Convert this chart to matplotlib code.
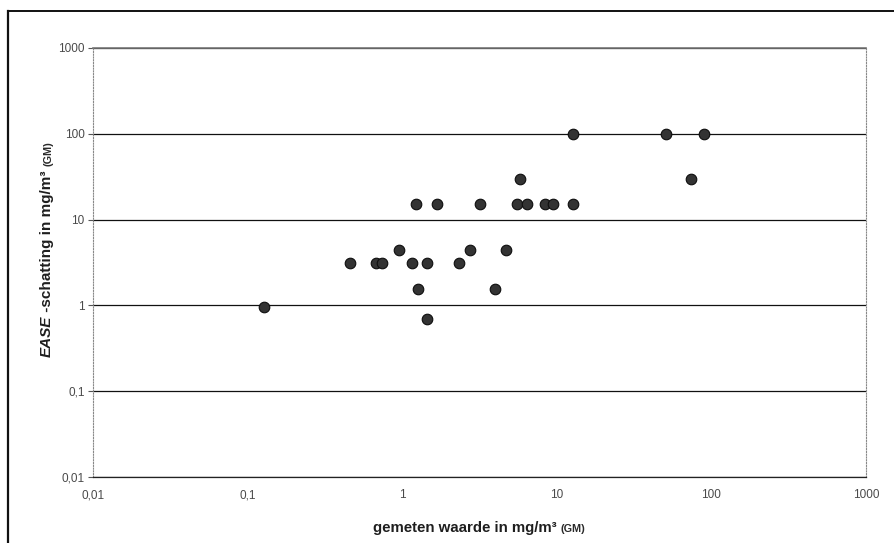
import matplotlib
matplotlib.use("Agg")
import matplotlib.pyplot as plt
from matplotlib.ticker import FixedLocator, FixedFormatter, NullLocator
from matplotlib.lines import Line2D

# ---- data ----
measured = [0.128,
            0.46, 0.675, 0.74, 1.16, 1.45, 2.33,
            0.96, 2.73, 4.68,
            1.26, 4.0,
            1.45,
            1.22, 1.68, 3.2, 5.56, 6.45, 8.34, 9.45, 12.7,
            5.75, 73.8,
            12.8, 51.0, 89.5]
ease_estimate = [0.96,
                 3.1, 3.1, 3.1, 3.1, 3.1, 3.1,
                 4.4, 4.4, 4.4,
                 1.55, 1.55,
                 0.69,
                 15.3, 15.3, 15.3, 15.3, 15.3, 15.3, 15.3, 15.3,
                 30, 30,
                 100, 100, 100]
tick_values = [0.01, 0.1, 1, 10, 100, 1000]
tick_labels = ["0,01", "0,1", "1", "10", "100", "1000"]
x_label = "gemeten waarde in mg/m\u00b3 "
y_label_italic = "EASE"
y_label_rest = " -schatting in mg/m\u00b3 "
label_suffix = "(GM)"

plt.rcParams['font.family'] = ['Liberation Sans', 'DejaVu Sans']

W, H = 894, 543
fig = plt.figure(figsize=(W / 100, H / 100), dpi=100)
ax = fig.add_axes([93 / W, 1 - 477 / H, (866 - 93) / W, (477 - 48) / H])

ax.set_xscale('log')
ax.set_yscale('log')
ax.set_xlim(0.01, 1000)
ax.set_ylim(0.01, 1000)

ax.scatter(measured, ease_estimate, s=58, color='#333333', edgecolors='#0d0d0d',
           linewidths=0.8, zorder=5)

ax.xaxis.set_major_locator(FixedLocator(tick_values))
ax.xaxis.set_major_formatter(FixedFormatter(tick_labels))
ax.yaxis.set_major_locator(FixedLocator(tick_values))
ax.yaxis.set_major_formatter(FixedFormatter(tick_labels))
ax.xaxis.set_minor_locator(NullLocator())
ax.yaxis.set_minor_locator(NullLocator())

ax.tick_params(axis='x', length=0, pad=9, labelsize=8.5, labelcolor='#4a4a4a')
ax.tick_params(axis='y', length=3.5, width=0.8, color='#555555', pad=2.5,
               labelsize=8.5, labelcolor='#4a4a4a')

ax.yaxis.grid(True, color='#111111', linewidth=0.9)
ax.set_axisbelow(True)

for side in ('left', 'right'):
    ax.spines[side].set_linestyle((0, (1, 1.5)))
    ax.spines[side].set_color('#888888')
    ax.spines[side].set_linewidth(0.8)
ax.spines['top'].set_color('#777777')
ax.spines['top'].set_linewidth(1.2)
ax.spines['bottom'].set_color('#222222')
ax.spines['bottom'].set_linewidth(0.9)

renderer = fig.canvas.get_renderer()

def px(x, y):
    return x / W, 1 - y / H

# ---- x axis label: main part + smaller "(GM)" on the same baseline ----
base_y = 532
t1 = fig.text(*px(0, base_y), x_label, ha='left', va='baseline',
              fontsize=10.8, fontweight='bold', color='#1e1e1e')
t2 = fig.text(*px(0, base_y), label_suffix, ha='left', va='baseline',
              fontsize=7.8, fontweight='bold', color='#2a2a2a')
w1 = t1.get_window_extent(renderer).width
w2 = t2.get_window_extent(renderer).width
x0 = 479 - (w1 + w2) / 2
t1.set_x(x0 / W)
t2.set_x((x0 + w1) / W)

# ---- y axis label (rotated), built bottom-to-top on a common baseline ----
base_x = 51
y_start = 249 + 0  # centre of label
parts = [(y_label_italic, 11, 'italic'), (y_label_rest, 11, 'normal'),
         (label_suffix, 7.8, 'normal')]
texts = []
for s, fs, st in parts:
    t = fig.text(*px(base_x, 0), s, ha='left', va='baseline', rotation=90,
                 rotation_mode='anchor', fontsize=fs, fontweight='bold',
                 fontstyle=st, color='#1e1e1e' if fs > 9 else '#2a2a2a')
    texts.append(t)
heights = [t.get_window_extent(renderer).height for t in texts]
total = sum(heights)
cur = y_start + total / 2
for t, h in zip(texts, heights):
    t.set_position(px(base_x, cur))
    cur -= h

# outer chart border (left and top edges visible)
fig.add_artist(Line2D([8 / W, 8 / W], [0, 1 - 11 / H], transform=fig.transFigure,
                      color='#111111', linewidth=1.6))
fig.add_artist(Line2D([8 / W, 1], [1 - 11 / H, 1 - 11 / H], transform=fig.transFigure,
                      color='#111111', linewidth=1.4))

fig.savefig("out.png", dpi=100)
